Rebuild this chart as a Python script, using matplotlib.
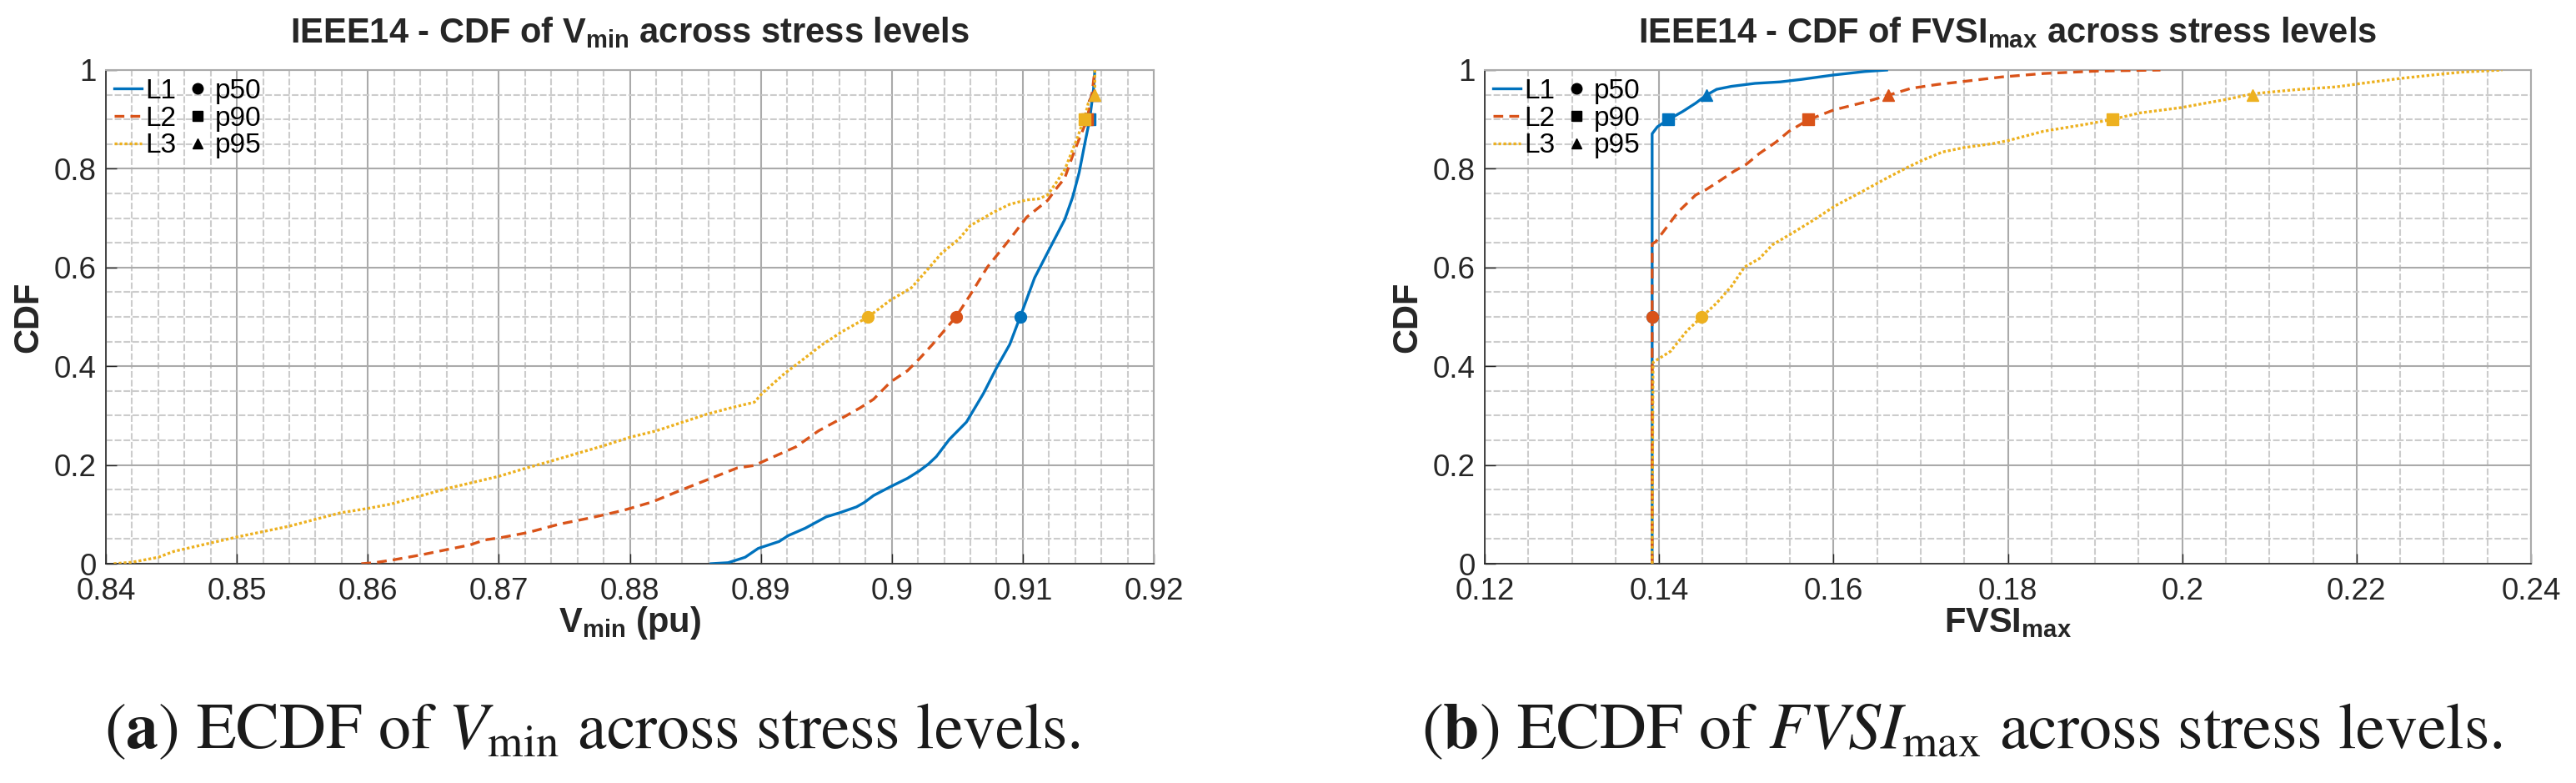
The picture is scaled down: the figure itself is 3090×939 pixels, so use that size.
import matplotlib
matplotlib.use("Agg")
import matplotlib.pyplot as plt
from matplotlib import font_manager
from matplotlib.lines import Line2D
from matplotlib.ticker import MultipleLocator, FormatStrFormatter


def pick_font(names):
    for n in names:
        try:
            font_manager.findfont(n, fallback_to_default=False)
            return n
        except ValueError:
            pass
    return 'DejaVu Sans'


SANS = pick_font(['Liberation Sans', 'Arial'])

# ---- data ----
series_names = ['L1', 'L2', 'L3']
pct_names = ['p50', 'p90', 'p95']
pct_levels = [0.5, 0.9, 0.95]

# Vmin ECDF curves
vmin_L1_x = [0.8862, 0.8875, 0.8888, 0.8898, 0.8914, 0.8921, 0.8934, 0.8950, 0.8960, 0.8973,
             0.8979, 0.8986, 0.8999, 0.9012, 0.9021, 0.9028, 0.9034, 0.9044, 0.9057, 0.9070,
             0.9080, 0.9090, 0.9098, 0.9109, 0.9122, 0.9132, 0.9138, 0.9143, 0.9148, 0.9151,
             0.9154, 0.9155]
vmin_L1_y = [0.0, 0.002, 0.013, 0.031, 0.045, 0.057, 0.072, 0.095, 0.103, 0.115,
             0.124, 0.138, 0.156, 0.173, 0.188, 0.202, 0.217, 0.252, 0.287, 0.345,
             0.397, 0.444, 0.500, 0.579, 0.646, 0.697, 0.742, 0.792, 0.860, 0.899,
             0.961, 1.0]

vmin_L2_x = [0.8595, 0.8605, 0.8620, 0.8641, 0.8663, 0.8678, 0.8689, 0.8702, 0.8722, 0.8746,
             0.8772, 0.8795, 0.8817, 0.8840, 0.8862, 0.8882, 0.8895, 0.8905, 0.8927, 0.8944,
             0.8960, 0.8976, 0.8986, 0.8999, 0.9012, 0.9021, 0.9031, 0.9049, 0.9060, 0.9073,
             0.9090, 0.9103, 0.9119, 0.9125, 0.9132, 0.9138, 0.9143, 0.9149, 0.9153, 0.9155]
vmin_L2_y = [0.0, 0.002, 0.008, 0.018, 0.030, 0.038, 0.048, 0.053, 0.063, 0.080,
             0.094, 0.108, 0.125, 0.150, 0.173, 0.194, 0.199, 0.211, 0.237, 0.269,
             0.292, 0.316, 0.333, 0.368, 0.391, 0.415, 0.444, 0.500, 0.545, 0.601,
             0.657, 0.702, 0.736, 0.758, 0.781, 0.826, 0.860, 0.899, 0.955, 1.0]

vmin_L3_x = [0.8406, 0.8420, 0.8440, 0.8452, 0.8480, 0.8500, 0.8540, 0.8579, 0.8600, 0.8618,
             0.8660, 0.8700, 0.8720, 0.8740, 0.8780, 0.8800, 0.8820, 0.8859, 0.8879, 0.8895,
             0.8901, 0.8918, 0.8927, 0.8947, 0.8962, 0.8982, 0.8999, 0.9015, 0.9028, 0.9038,
             0.9051, 0.9060, 0.9077, 0.9090, 0.9103, 0.9112, 0.9119, 0.9125, 0.9132, 0.9142,
             0.9145, 0.9147, 0.9150, 0.9155, 0.9155]
vmin_L3_y = [0.0, 0.003, 0.013, 0.025, 0.042, 0.054, 0.076, 0.103, 0.112, 0.121,
             0.152, 0.177, 0.193, 0.208, 0.239, 0.256, 0.269, 0.303, 0.317, 0.327,
             0.345, 0.385, 0.403, 0.444, 0.470, 0.500, 0.534, 0.559, 0.598, 0.629,
             0.657, 0.685, 0.711, 0.728, 0.737, 0.739, 0.747, 0.770, 0.798, 0.865,
             0.888, 0.900, 0.933, 0.952, 1.0]

vmin_pct_L1 = [0.9098, 0.9151, 0.9154]
vmin_pct_L2 = [0.9049, 0.9149, 0.9154]
vmin_pct_L3 = [0.8982, 0.9147, 0.9155]

# FVSImax ECDF curves
fvsi_L1_x = [0.1392, 0.1392, 0.1398, 0.1410, 0.1427, 0.1442, 0.1454, 0.1466, 0.1483, 0.1510,
             0.1539, 0.1563, 0.1600, 0.1636, 0.1661]
fvsi_L1_y = [0.0, 0.871, 0.885, 0.899, 0.916, 0.933, 0.949, 0.961, 0.967, 0.973,
             0.976, 0.981, 0.990, 0.997, 1.0]

fvsi_L2_x = [0.1392, 0.1392, 0.1396, 0.1408, 0.1422, 0.1442, 0.1454, 0.1469, 0.1486, 0.1500,
             0.1515, 0.1534, 0.1549, 0.1571, 0.1600, 0.1636, 0.1663, 0.1689, 0.1720, 0.1745,
             0.1793, 0.1841, 0.1903, 0.1975]
fvsi_L2_y = [0.0, 0.648, 0.652, 0.680, 0.713, 0.747, 0.758, 0.775, 0.795, 0.809,
             0.831, 0.854, 0.876, 0.899, 0.919, 0.935, 0.949, 0.963, 0.971, 0.976,
             0.986, 0.993, 0.998, 1.0]

fvsi_L3_x = [0.1392, 0.1393, 0.1413, 0.1432, 0.1449, 0.1466, 0.1483, 0.1498, 0.1515, 0.1530,
             0.1554, 0.1578, 0.1602, 0.1632, 0.1661, 0.1685, 0.1703, 0.1725, 0.1750, 0.1783,
             0.1800, 0.1841, 0.1889, 0.1920, 0.1951, 0.1999, 0.2052, 0.2081, 0.2129, 0.2177,
             0.2206, 0.2250, 0.2298, 0.2322, 0.2367]
fvsi_L3_y = [0.0, 0.408, 0.430, 0.472, 0.500, 0.528, 0.562, 0.601, 0.618, 0.646,
             0.671, 0.697, 0.725, 0.753, 0.781, 0.803, 0.818, 0.834, 0.843, 0.851,
             0.857, 0.876, 0.890, 0.900, 0.913, 0.924, 0.941, 0.952, 0.960, 0.966,
             0.973, 0.983, 0.992, 0.996, 1.0]

fvsi_pct_L1 = [0.1392, 0.1410, 0.1454]
fvsi_pct_L2 = [0.1392, 0.1571, 0.1663]
fvsi_pct_L3 = [0.1449, 0.1920, 0.2081]

# ---- style ----
colors = ['#0072BD', '#D95319', '#EDB120']
styles = ['-', (0, (3.5, 2.2)), (0, (1, 0.8))]
markers = ['o', 's', '^']
GRID_MAJ = '#aaaaaa'
GRID_MIN = '#cccccc'
INK = '#262626'

plt.rcParams['font.family'] = [SANS, 'DejaVu Sans']
plt.rcParams['mathtext.fontset'] = 'custom'
plt.rcParams['mathtext.rm'] = SANS
plt.rcParams['mathtext.bf'] = SANS + ':bold'
plt.rcParams['mathtext.it'] = SANS + ':italic'

W, H = 3090, 939
fig = plt.figure(figsize=(W / 100, H / 100), dpi=100)
ax1 = fig.add_axes([127 / W, 1 - 676 / H, 1257 / W, 592 / H])
ax2 = fig.add_axes([1781 / W, 1 - 676 / H, 1255 / W, 592 / H])


def draw_panel(ax, curves, pcts, xlim, xmaj, xmin, title, xlabel):
    for i, (xs, ys) in enumerate(curves):
        ax.plot(xs, ys, color=colors[i], linestyle=styles[i], linewidth=2.4, zorder=3)
        for j, lev in enumerate(pct_levels):
            ax.plot(pcts[i][j], lev, marker=markers[j], color=colors[i],
                    markersize=10, linestyle='none', zorder=4)
    ax.set_xlim(*xlim)
    ax.set_ylim(0, 1)
    ax.xaxis.set_major_locator(MultipleLocator(xmaj))
    ax.xaxis.set_minor_locator(MultipleLocator(xmin))
    ax.yaxis.set_major_locator(MultipleLocator(0.2))
    ax.yaxis.set_minor_locator(MultipleLocator(0.05))
    ax.xaxis.set_major_formatter(FormatStrFormatter('%g'))
    ax.yaxis.set_major_formatter(FormatStrFormatter('%g'))
    ax.grid(which='major', color=GRID_MAJ, linewidth=1.5, linestyle='-')
    ax.grid(which='minor', color=GRID_MIN, linewidth=1.5, linestyle=(0, (3.8, 1.3)))
    ax.set_axisbelow(True)
    ax.tick_params(which='major', direction='in', length=9, width=1.0,
                   labelsize=26.5, colors=INK)
    ax.tick_params(axis='x', which='major', pad=11.5)
    ax.tick_params(axis='y', which='major', pad=8)
    ax.tick_params(which='minor', length=0)
    for s in ['left', 'bottom']:
        ax.spines[s].set_color(INK)
        ax.spines[s].set_linewidth(1.2)
    for s in ['top', 'right']:
        ax.spines[s].set_color(GRID_MAJ)
        ax.spines[s].set_linewidth(1.5)

    ax.text(0.5, 1 + (84 - 50.7) / 592, title, transform=ax.transAxes,
            ha='center', va='baseline', fontsize=30, fontweight='bold', color=INK)
    ax.set_xlabel(xlabel, fontsize=30, fontweight='bold', color=INK)
    ax.xaxis.set_label_coords(0.5, -(758 - 676) / 592)
    ax.xaxis.label.set_va('baseline')
    ax.set_ylabel('CDF', fontsize=30, fontweight='bold', color=INK)
    ax.yaxis.set_label_coords(-93 / 1256, 0.5)
    ax.yaxis.label.set_va('center')

    handles = [Line2D([], [], color=colors[i], linestyle=styles[i], linewidth=2.4)
               for i in range(3)]
    handles += [Line2D([], [], color='k', marker=m, linestyle='none', markersize=9)
                for m in markers]
    ax.legend(handles, series_names + pct_names, ncol=2, loc='upper left',
              frameon=False, fontsize=24, handlelength=1.0, handletextpad=0.12,
              columnspacing=0.27, labelspacing=0.05, borderaxespad=0.15, borderpad=0.15)


draw_panel(ax1,
           [(vmin_L1_x, vmin_L1_y), (vmin_L2_x, vmin_L2_y), (vmin_L3_x, vmin_L3_y)],
           [vmin_pct_L1, vmin_pct_L2, vmin_pct_L3],
           (0.84, 0.92), 0.01, 0.002,
           r'IEEE14 - CDF of $\mathbf{V}_{\mathbf{min}}$ across stress levels',
           r'$\mathbf{V}_{\mathbf{min}}$ (pu)')

draw_panel(ax2,
           [(fvsi_L1_x, fvsi_L1_y), (fvsi_L2_x, fvsi_L2_y), (fvsi_L3_x, fvsi_L3_y)],
           [fvsi_pct_L1, fvsi_pct_L2, fvsi_pct_L3],
           (0.12, 0.24), 0.02, 0.005,
           r'IEEE14 - CDF of $\mathbf{FVSI}_{\mathbf{max}}$ across stress levels',
           r'$\mathbf{FVSI}_{\mathbf{max}}$')

cap_kw = dict(fontsize=56, family='STIXGeneral', math_fontfamily='stix',
              ha='left', va='baseline', color='#1a1a1a')
fig.text(125 / W, 1 - 897 / H,
         r'($\mathbf{a}$) ECDF of $V_{\mathrm{min}}$ across stress levels.', **cap_kw)
fig.text(1705 / W, 1 - 897 / H,
         r'($\mathbf{b}$) ECDF of $FVSI_{\mathrm{max}}$ across stress levels.', **cap_kw)

fig.savefig('out.png', dpi=100)
